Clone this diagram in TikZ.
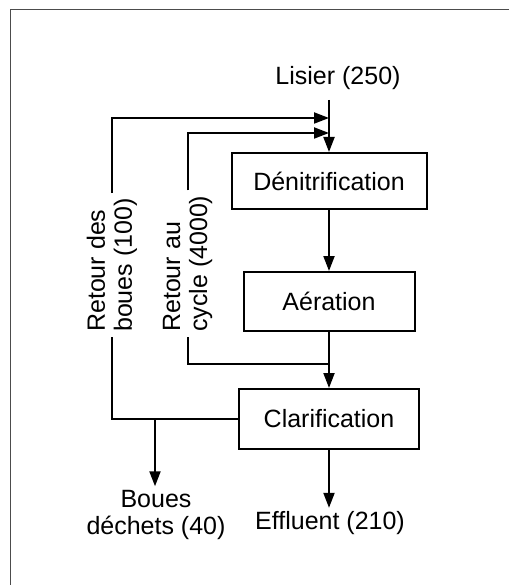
\documentclass[tikz,border=0pt]{standalone}
\usepackage{fontspec}
\setmainfont{Liberation Sans}
\usepackage{tikz}
\usetikzlibrary{arrows.meta,positioning}

\begin{document}
\begin{tikzpicture}[x=1pt,y=-1pt]

\tikzset{every node/.style={font=\fontsize{25}{27}\selectfont},
  stage/.style={draw, line width=2pt, inner sep=0pt},
  pipe/.style={line width=2pt},
  flow/.style={pipe, -{Triangle[length=15pt,width=11pt]}}}

    % Frame and page size
    \useasboundingbox (0,0) rectangle (509,585);
    \draw[line width=1pt, black!70] (509,10) -- (10,10) -- (10,585);

    \def\xMain{329} % x of the main stream

    % Treatment stages
    \node[stage, minimum width=195, minimum height=56] (denit) at (\xMain,181)
    {D\'enitrification};
    \node[stage, minimum width=171, minimum height=59] (aer) at (\xMain,301.5)
    {A\'eration};
    \node[stage, minimum width=180, minimum height=60] (clar) at (\xMain,419)
    {Clarification};

    % Inputs and outputs
    \node (lisier) at (338,78) {Lisier (250)};
    \node (effluent) at (330,523) {Effluent (210)};
    \node[align=center] (boues) at (156,514.5) {Boues\\d\'echets (40)};

    % Return labels
    \node[rotate=90, anchor=west, align=left, inner sep=5pt] (retb) at (112,337)
    {Retour des\\boues (100)};
    \node[rotate=90, anchor=west, align=left, inner sep=5pt] (retc) at (187.5,337)
    {Retour au\\cycle (4000)};

    % Junctions on the main stream
    \coordinate (in) at (\xMain,100);
    \coordinate (mtop) at (\xMain,118);
    \coordinate (mcyc) at (\xMain,133);
    \coordinate (join) at (\xMain,364);
    \coordinate (split) at (155,419);

    % Main stream
    \draw[flow] (in) -- (denit.north);
    \draw[flow] (denit.south) -- (aer.north);
    \draw[flow] (aer.south) -- (clar.north);
    \draw[flow] (clar.south) -- (clar.south |- effluent.north);

    % Returns
    \draw[flow] (retb.east) |- (mtop);
    \draw[flow] (retc.east) |- (mcyc);
    \draw[pipe] (retc.west) |- (join);
    \draw[pipe] (clar.west) -| (retb.west);
    \draw[flow] (split) -- (split |- boues.north);

\end{tikzpicture}
\end{document}
